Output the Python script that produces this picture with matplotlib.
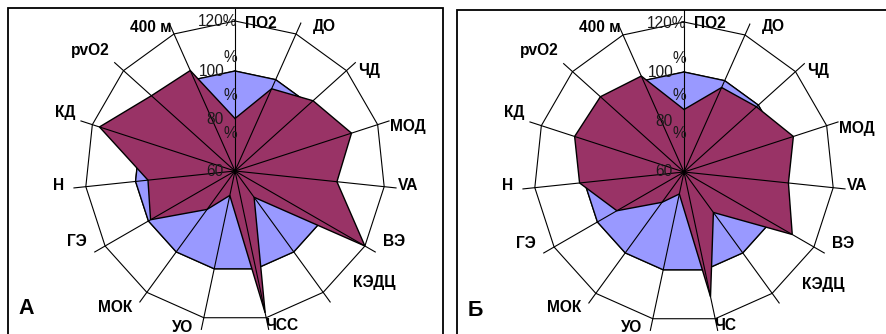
import numpy as np
import matplotlib.pyplot as plt
from matplotlib.patches import Rectangle

plt.rcParams['font.family'] = ['Liberation Sans', 'DejaVu Sans']

# categories (clockwise from top)
labels_a = ['ПО2', 'ДО', 'ЧД', 'МОД', 'VA', 'ВЭ', 'КЭДЦ', 'ЧСС', 'УО', 'МОК', 'ГЭ', 'Н', 'КД', 'pvO2', '400 м']
labels_b = ['ПО2', 'ДО', 'ЧД', 'МОД', 'VA', 'ВЭ', 'КЭДЦ', 'ЧС', 'УО', 'МОК', 'ГЭ', 'Н', 'КД', 'pvO2', '400 м']

# norm (blue) and group (maroon) values, %
norm_a = [100, 100, 100, 100, 100, 100, 100, 100, 100, 100, 100, 100, 100, 100, 100]
group_a = [81, 96, 102, 109, 101, 120, 73, 118, 70, 79, 99, 95, 117, 105, 104]
norm_b = [100, 100, 100, 100, 100, 100, 100, 100, 100, 100, 100, 100, 100, 100, 100]
group_b = [85, 97, 99, 106, 102, 110, 80, 111, 69, 75, 91, 102, 106, 105, 102]

r_min, r_max, r_spoke = 60, 120, 125

# label offsets from the centre in pixels (dx, dy, ha)
label_pos = [(10, 148, 'left'), (78, 145, 'left'), (123, 101, 'left'), (155, 44, 'left'),
             (163, -14, 'left'), (148, -71, 'left'), (118, -112, 'left'), (30, -154, 'left'),
             (-42, -156, 'right'), (-103, -136, 'right'), (-148, -71, 'right'), (-171, -14, 'right'),
             (-160, 59, 'right'), (-125, 121, 'right'), (-63, 144, 'right')]

# radial tick texts: (r, dx, text)
tick_texts = [(60, -20, '60'), (75.2, -4.5, '%'), (80.4, -20, '80'), (90.4, -4.5, '%'),
              (99.7, -23.5, '100'), (105.5, -4.5, '%'), (119.6, -17.5, '120%')]

W, H = 887, 334
fig = plt.figure(figsize=(W / 100, H / 100), dpi=100)


def radar(cx, cy, labels, norm, group):
    R = 162.5
    ax = fig.add_axes([(cx - R) / W, (H - cy - R) / H, 2 * R / W, 2 * R / H], projection='polar')
    ax.set_theta_zero_location('N')
    ax.set_theta_direction(-1)
    ax.set_ylim(r_min, r_spoke)
    ax.grid(False)
    ax.set_xticks([])
    ax.set_yticks([])
    ax.spines['polar'].set_visible(False)
    ax.patch.set_visible(False)

    n = len(labels)
    theta = np.linspace(0, 2 * np.pi, n, endpoint=False)
    tc = np.append(theta, theta[0])

    for rr in [80, 100, 120]:
        ax.plot(tc, [rr] * (n + 1), color='black', lw=0.8, zorder=0)
    ax.fill(tc, np.append(norm, norm[0]), facecolor='#9999FF', edgecolor='black', lw=1.0, zorder=1)
    ax.fill(tc, np.append(group, group[0]), facecolor='#993366', edgecolor='black', lw=1.0, zorder=2)
    for t in theta:
        ax.plot([t, t], [r_min, r_spoke], color='black', lw=0.8, zorder=3)

    for lab, (dx, dy, ha) in zip(labels, label_pos):
        ax.annotate(lab, xy=(0, r_min), xytext=(dx, dy), textcoords='offset pixels',
                    ha=ha, va='center', fontsize=11.2, fontweight='bold', zorder=5)
    for rr, dx, txt in tick_texts:
        ax.annotate(txt, xy=(0, rr), xytext=(dx, 0), textcoords='offset pixels',
                    ha='center', va='center', fontsize=11.2, color='#1a1a1a', zorder=5)
    return ax


radar(235, 171, labels_a, norm_a, group_a)
radar(684, 172, labels_b, norm_b, group_b)

# panel frames
fig.add_artist(Rectangle((8 / W, -0.1), (443 - 8) / W, (H - 8) / H + 0.1,
                         transform=fig.transFigure, fill=False, ec='black', lw=1.3))
fig.add_artist(Rectangle((457 / W, -0.1), (886.5 - 457) / W, (H - 10) / H + 0.1,
                         transform=fig.transFigure, fill=False, ec='black', lw=1.3))

fig.text(18 / W, (H - 309) / H, 'А', fontsize=15.5, fontweight='bold', ha='left', va='center')
fig.text(468 / W, (H - 310) / H, 'Б', fontsize=15.5, fontweight='bold', ha='left', va='center')

fig.savefig('out.png', dpi=100)
